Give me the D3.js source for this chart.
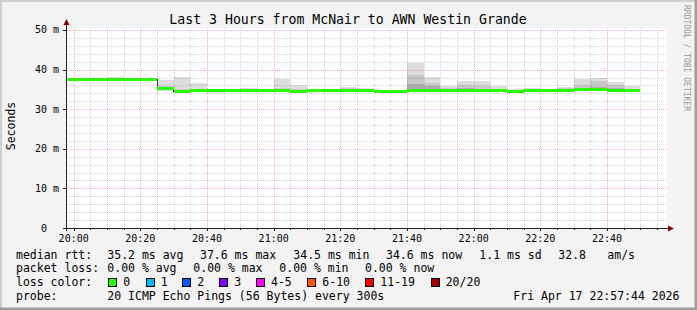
<!DOCTYPE html>
<html>
<head>
<meta charset="utf-8">
<script src="https://cdn.jsdelivr.net/npm/d3@7/dist/d3.min.js"></script>
<style>
  html, body { margin: 0; padding: 0; background: #f3f3f3; }
  svg { display: block; }
  text { font-family: "DejaVu Sans Mono", monospace; white-space: pre; }
</style>
</head>
<body>
<svg id="chart" width="697" height="310"></svg>
<script>
// ---------------- DATA ----------------
const titleText = "Last 3 Hours from McNair to AWN Westin Grande";
const intervalEnds = ["20:00","20:05","20:10","20:15","20:20","20:25","20:30","20:35","20:40","20:45",
  "20:50","20:55","21:00","21:05","21:10","21:15","21:20","21:25","21:30","21:35",
  "21:40","21:45","21:50","21:55","22:00","22:05","22:10","22:15","22:20","22:25",
  "22:30","22:35","22:40","22:45","22:50"];
const medianMs = [37.5,37.5,37.5,37.4,37.6,37.6,35.3,34.5,34.8,34.6,
  34.8,34.8,34.8,34.7,34.5,34.8,34.6,34.8,34.8,34.5,
  34.5,34.8,34.8,34.8,34.8,34.8,34.8,34.5,34.8,34.8,
  34.8,34.9,34.9,34.8,34.6];
const pingMin = [37.3,37.3,37.3,37.0,37.4,37.4,34.6,34.1,34.5,34.0,
  34.6,34.5,34.6,34.5,34.3,34.6,34.3,34.5,34.5,34.3,
  34.3,34.4,34.5,34.6,34.5,34.5,34.6,34.3,34.6,34.6,
  34.6,34.6,34.6,34.5,34.3];
const pingLowInner = [37.4,37.4,37.4,37.2,37.5,37.5,35.1,34.3,34.6,34.3,
  34.7,34.6,34.7,34.6,34.4,34.7,34.4,34.7,34.7,34.4,
  34.4,34.6,34.7,34.7,34.6,34.6,34.7,34.4,34.7,34.7,
  34.7,34.7,34.7,34.6,34.4];
const pingHigh3 = [37.6,37.6,37.6,37.6,37.7,37.7,35.5,34.8,34.9,34.8,
  35.0,35.0,35.0,35.0,34.8,34.9,34.9,35.1,34.9,34.7,
  34.7,36.4,35.8,35.0,35.3,35.2,35.0,34.7,35.0,34.9,
  35.1,35.3,35.5,35.3,34.9];
const pingHigh2 = [37.7,37.7,37.7,37.8,37.8,37.8,35.8,35.2,35.1,34.9,
  35.1,35.2,35.1,35.3,35.0,34.9,35.0,35.3,35.0,34.8,
  34.8,38.7,36.6,35.3,36.2,35.9,35.2,34.9,35.2,35.0,
  35.3,36.0,37.0,36.2,35.2];
const pingMax = [37.8,37.8,37.9,38.1,37.9,37.9,37.4,38.1,36.6,35.1,
  35.2,35.3,35.2,37.7,36.1,35.0,35.1,35.7,35.3,34.9,
  34.9,41.7,38.1,35.9,37.1,37.1,35.8,35.1,35.4,35.2,
  35.6,37.7,37.9,36.9,35.9];
const lossCount = [0,0,0,0,0,0,0,0,0,0, 0,0,0,0,0,0,0,0,0,0, 0,0,0,0,0,0,0,0,0,0, 0,0,0,0,0];

const yTickValues = [0, 10, 20, 30, 40, 50];
const yTickLabels = [" 0", "10 m", "20 m", "30 m", "40 m", "50 m"];
const xTickLabels = ["20:00","20:20","20:40","21:00","21:20","21:40","22:00","22:20","22:40"];

const lossLabels = ["0","1","2","3","4-5","6-10","11-19","20/20"];
const lossUpper  = [0, 1, 2, 3, 5, 10, 19, 20];
const lossColors = ["#26ff00","#00b8ff","#0059ff","#7e00ff","#ff00ff","#ff5500","#ff0000","#a00000"];

const statRow1 = [["median rtt:",16],["35.2 ms avg",107.3],["37.6 ms max",200],["34.5 ms min",293.3],
  ["34.6 ms now",386],["1.1 ms sd",479.3],["32.8",558.3],["am/s",607.3]];
const statRow2 = [["packet loss:",16],["0.00 % avg",107.3],["0.00 % max",193.3],["0.00 % min",279.3],["0.00 % now",365]];
const probeText = "20 ICMP Echo Pings (56 Bytes) every 300s";
const stampText = "Fri Apr 17 22:57:44 2026";

// ---------------- LAYOUT ----------------
const W = 697, H = 310;
const L = 67, R = 667, T = 28, B = 228;
const day = "2026-04-17 ";
const parse = d3.timeParse("%Y-%m-%d %H:%M");
const tStart = parse(day + "19:58"), tEnd = parse(day + "22:58");

const x = d3.scaleTime().domain([tStart, tEnd]).range([L, R]);
const y = d3.scaleLinear().domain([0, 50.5]).range([B, T]);

const svg = d3.select("#chart");

// background + border
svg.append("rect").attr("x",0).attr("y",0).attr("width",W).attr("height",H).attr("fill","#f3f3f3");
svg.append("path").attr("d",`M0,${H} L0,0 L${W},0`).attr("fill","none").attr("stroke","#cfcfcf").attr("stroke-width",4);
svg.append("path").attr("d",`M0,${H} L${W},${H} L${W},0`).attr("fill","none").attr("stroke","#9e9e9e").attr("stroke-width",5);

// canvas
svg.append("rect").attr("x",L).attr("y",T).attr("width",R-L).attr("height",B-T).attr("fill","#ffffff");

// data rows
const rows = intervalEnds.map((s, i) => {
  const end = parse(day + s);
  let start = d3.timeMinute.offset(end, -5);
  if (start < tStart) start = tStart;
  return {start, end, med: medianMs[i], min: pingMin[i], lo: pingLowInner[i],
          h3: pingHigh3[i], h2: pingHigh2[i], max: pingMax[i], loss: lossCount[i]};
});

const gData = svg.append("g").attr("shape-rendering","crispEdges");
function band(lo, hi, color) {
  gData.append("g").selectAll("rect").data(rows).join("rect")
    .attr("x", d => x(d.start)).attr("width", d => x(d.end) - x(d.start))
    .attr("y", d => y(hi(d))).attr("height", d => Math.max(0, y(lo(d)) - y(hi(d))))
    .attr("fill", color);
}
band(d => d.min, d => d.max, "#dddddd");
band(d => d.lo, d => d.h2, "#c8c8c8");
band(d => d.lo, d => d.h3, "#acacac");

// median LINE1 (drawn beneath the loss-coloured band)
const stepPts = rows.map(d => [d.start, d.med]);
stepPts.push([rows[rows.length-1].end, rows[rows.length-1].med]);
gData.append("path")
  .attr("d", d3.line().x(d => x(d[0])).y(d => Math.round(y(d[1])) + 0.5).curve(d3.curveStepAfter)(stepPts))
  .attr("fill","none").attr("stroke","#202020").attr("stroke-width",1);

// loss-coloured median band
const sw = 0.38;
function lossColor(n) {
  for (let k = 0; k < lossUpper.length; k++) if (n <= lossUpper[k]) return lossColors[k];
  return lossColors[lossColors.length-1];
}
gData.append("g").selectAll("rect").data(rows).join("rect")
  .attr("x", d => x(d.start)).attr("width", d => x(d.end) - x(d.start))
  .attr("y", d => y(d.med + sw)).attr("height", d => y(d.med - sw) - y(d.med + sw))
  .attr("fill", d => lossColor(d.loss));

// grid (drawn on top, semi transparent)
const grid = svg.append("g").attr("shape-rendering","crispEdges");
const minorX = d3.timeMinute.every(5).range(tStart, tEnd).filter(t => t.getMinutes() % 20 !== 0);
const majorX = d3.timeMinute.every(5).range(tStart, tEnd).filter(t => t.getMinutes() % 20 === 0);
const minorY = d3.range(2, 51, 2).filter(v => v % 10 !== 0);
const majorY = yTickValues.filter(v => v > 0);

grid.selectAll(".mx").data(minorX).join("line")
  .attr("x1", d => Math.round(x(d)) + 0.5).attr("x2", d => Math.round(x(d)) + 0.5)
  .attr("y1", T).attr("y2", B)
  .attr("stroke","#8c8c8c").attr("stroke-opacity",0.4).attr("stroke-dasharray","1,1");
grid.selectAll(".my").data(minorY).join("line")
  .attr("x1", L).attr("x2", R)
  .attr("y1", d => Math.round(y(d)) + 0.5).attr("y2", d => Math.round(y(d)) + 0.5)
  .attr("stroke","#8c8c8c").attr("stroke-opacity",0.4).attr("stroke-dasharray","1,1");
grid.selectAll(".Mx").data(majorX).join("line")
  .attr("x1", d => Math.round(x(d)) + 0.5).attr("x2", d => Math.round(x(d)) + 0.5)
  .attr("y1", T).attr("y2", B)
  .attr("stroke","#ff5050").attr("stroke-opacity",0.45).attr("stroke-dasharray","1,1");
grid.selectAll(".My").data(majorY).join("line")
  .attr("x1", L).attr("x2", R)
  .attr("y1", d => Math.round(y(d)) + 0.5).attr("y2", d => Math.round(y(d)) + 0.5)
  .attr("stroke","#ff5050").attr("stroke-opacity",0.45).attr("stroke-dasharray","1,1");

// axes
const ax = svg.append("g").attr("shape-rendering","crispEdges");
ax.append("line").attr("x1",L-0.5).attr("x2",L-0.5).attr("y1",B+3).attr("y2",T-6).attr("stroke","#202020");
ax.append("line").attr("x1",L-4).attr("x2",R+4).attr("y1",B+0.5).attr("y2",B+0.5).attr("stroke","#202020");
// ticks
ax.selectAll(".yt").data(yTickValues).join("line")
  .attr("x1", L-4).attr("x2", L)
  .attr("y1", d => Math.round(y(d)) + 0.5).attr("y2", d => Math.round(y(d)) + 0.5)
  .attr("stroke","#202020");
ax.selectAll(".xt").data(majorX).join("line")
  .attr("x1", d => Math.round(x(d)) + 0.5).attr("x2", d => Math.round(x(d)) + 0.5)
  .attr("y1", B).attr("y2", B + 3).attr("stroke","#202020");
ax.selectAll(".xmt").data(minorX).join("line")
  .attr("x1", d => Math.round(x(d)) + 0.5).attr("x2", d => Math.round(x(d)) + 0.5)
  .attr("y1", B).attr("y2", B + 2).attr("stroke","#202020");
// arrows
svg.append("path").attr("d", `M${L-3.5},${T-3} L${L+2.5},${T-3} L${L-0.5},${T-9} Z`).attr("fill","#800000");
svg.append("path").attr("d", `M${R+1},${B-2.5} L${R+1},${B+3.5} L${R+7},${B+0.5} Z`).attr("fill","#800000");

// tick labels
svg.selectAll(".yl").data(yTickValues).join("text")
  .attr("x", 35).attr("y", d => y(d) + 3.5)
  .attr("font-size", "10px").attr("fill","#000")
  .text((d, i) => yTickLabels[i]);
svg.selectAll(".xl").data(xTickLabels).join("text")
  .attr("x", d => x(parse(day + d))).attr("y", 241.5)
  .attr("text-anchor","middle").attr("font-size","10px").attr("fill","#000")
  .text(d => d);

// title
svg.append("text").attr("x", 348).attr("y", 23.5).attr("text-anchor","middle")
  .attr("font-size","13.2px").attr("fill","#000").text(titleText);

// y-axis label
svg.append("text").attr("transform","translate(14.5,126) rotate(-90)")
  .attr("text-anchor","middle").attr("font-size","11.5px").attr("fill","#000").text("Seconds");

// watermark
svg.append("text").attr("transform","translate(684,5) rotate(90)")
  .attr("font-size","8px").attr("fill","#999999").text("RRDTOOL / TOBI OETIKER");

// legend
const fs = "11.5px";
function rowText(items, yy) {
  svg.append("g").selectAll("text").data(items).join("text")
    .attr("x", d => d[1]).attr("y", yy).attr("font-size", fs).attr("fill","#000").text(d => d[0]);
}
rowText(statRow1, 258.5);
rowText(statRow2, 272.3);
svg.append("text").attr("x",16).attr("y",286.2).attr("font-size",fs).text("loss color:");
const boxX = [108.3,145.7,182.3,219.3,256,307.3,365.3,430.7];
const lg = svg.append("g");
lossLabels.forEach((lab, k) => {
  lg.append("rect").attr("x", Math.round(boxX[k]) + 0.5).attr("y", 278.5).attr("width", 8).attr("height", 8)
    .attr("fill", lossColors[k]).attr("stroke","#000").attr("stroke-width",1);
  lg.append("text").attr("x", boxX[k] + 15).attr("y", 286.2).attr("font-size", fs).text(lab);
});
svg.append("text").attr("x",16).attr("y",300).attr("font-size",fs).text("probe:");
svg.append("text").attr("x",107.3).attr("y",300).attr("font-size",fs).text(probeText);
svg.append("text").attr("x",513.3).attr("y",300).attr("font-size",fs).text(stampText);
</script>
</body>
</html>
